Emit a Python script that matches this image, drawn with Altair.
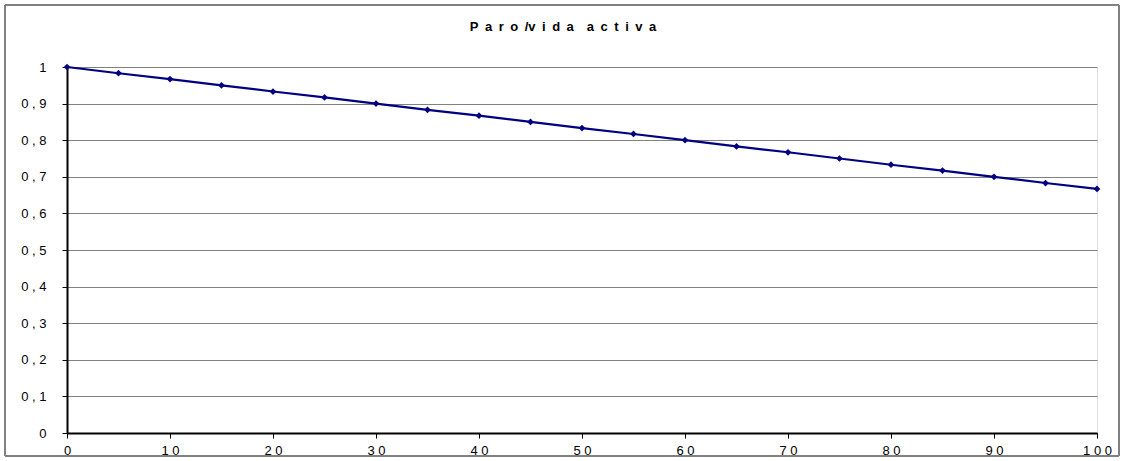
import altair as alt
import pandas as pd

x_vals = [0, 5, 10, 15, 20, 25, 30, 35, 40, 45, 50, 55, 60, 65, 70, 75, 80, 85, 90, 95, 100]
y_vals = [1.0, 0.983, 0.967, 0.95, 0.933, 0.917, 0.9, 0.883, 0.867, 0.85, 0.833,
          0.817, 0.8, 0.783, 0.767, 0.75, 0.733, 0.717, 0.7, 0.683, 0.667]
x_ticks = [0, 10, 20, 30, 40, 50, 60, 70, 80, 90, 100]
y_ticks = [0, 0.1, 0.2, 0.3, 0.4, 0.5, 0.6, 0.7, 0.8, 0.9, 1.0]
title_text = "P\u2002a\u2002r\u2002o\u2002/v\u2002i\u2002d\u2002a\u2003a\u2002c\u2002t\u2002i\u2002v\u2002a"

df = pd.DataFrame({"x": x_vals, "y": y_vals})

W, H = 1030, 366

x_enc = alt.X("x:Q", scale=alt.Scale(domain=[0, 100], nice=False),
              axis=alt.Axis(values=x_ticks, title=None, grid=False,
                            labelExpr="join(split(datum.label, ''), ' ')",
                            labelFont="Liberation Sans", labelFontSize=13, labelColor="#000",
                            labelPadding=6, tickSize=5, tickColor="#000",
                            domainColor="#000", domainWidth=2, labelFlush=False))
y_enc = alt.Y("y:Q", scale=alt.Scale(domain=[0, 1], nice=False),
              axis=alt.Axis(values=y_ticks, title=None, grid=True, gridColor="#808080",
                            gridWidth=1, gridOpacity=1,
                            labelExpr="datum.value == 0 ? '0' : datum.value == 1 ? '1' : '0 , ' + round(datum.value*10)",
                            labelFont="Liberation Sans", labelFontSize=13, labelColor="#000",
                            labelPadding=16, tickSize=5, tickColor="#000",
                            domainColor="#000", domainWidth=2))

frame = alt.Chart(df).mark_rect(fill=None, stroke="#808080", strokeWidth=1).encode(
    x=alt.value(-62), x2=alt.value(1052), y=alt.value(-62), y2=alt.value(389)
)

title = alt.Chart(pd.DataFrame({"t": [title_text]})).mark_text(
    font="Liberation Sans", fontSize=13, fontWeight="bold", color="#000",
    align="center", baseline="middle"
).encode(text="t:N", x=alt.value(496), y=alt.value(-40))

base = alt.Chart(df).encode(x=x_enc, y=y_enc)
line = base.mark_line(color="#000080", strokeWidth=2.2)
pts = base.mark_point(shape="diamond", filled=True, color="#000080", size=45, opacity=1)

chart = alt.layer(frame, line, pts, title).properties(
    width=W, height=H,
    padding={"left": 67, "top": 67, "right": 27, "bottom": 28},
    autosize=alt.AutoSizeParams(type="none"),
).configure_view(stroke="#000", strokeWidth=1).configure(background="white")

chart.save("out.html", embed_options={"renderer": "svg", "actions": False})
